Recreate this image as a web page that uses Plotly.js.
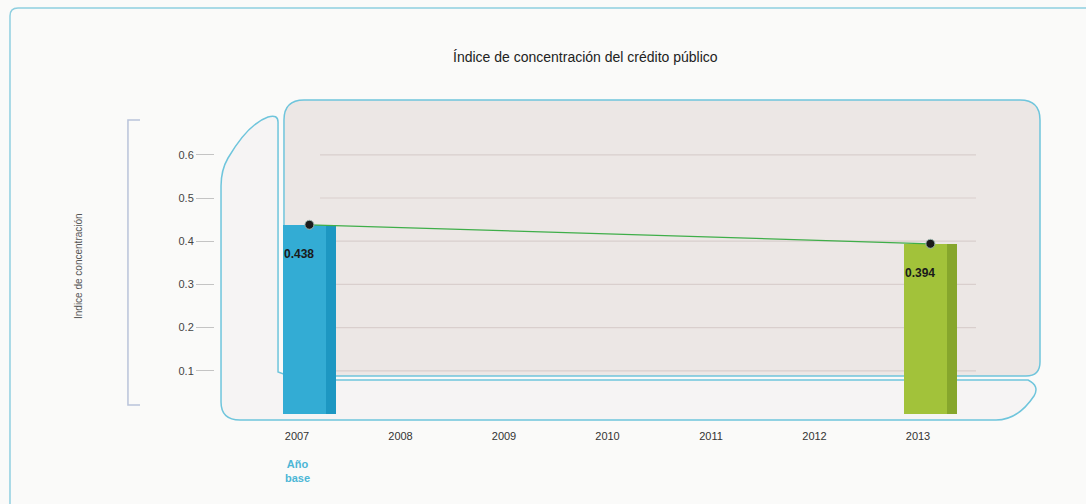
<!DOCTYPE html>
<html><head><meta charset="utf-8">
<script src="https://cdn.plot.ly/plotly-3.0.1.min.js"></script>
<style>html,body{margin:0;padding:0;background:#fafaf9;}#chart{width:1086px;height:504px;}</style>
</head><body><div id="chart"></div>
<script>
// ---- data ----
const years = [2007, 2013];
const values = [0.438, 0.394];
const valueLabels = ['0.438', '0.394'];
const barColors = ['#33acd4', '#a2c23a'];
const barSideColors = ['#1d97c2', '#86a62c'];
const xTickYears = [2007, 2008, 2009, 2010, 2011, 2012, 2013];
const xTickLabels = ['2007', '2008', '2009', '2010', '2011', '2012', '2013'];
const yTicks = [0.1, 0.2, 0.3, 0.4, 0.5, 0.6];
const yTickLabels = ['0.1', '0.2', '0.3', '0.4', '0.5', '0.6'];
const titleText = 'Índice de concentración del crédito público';
const yTitleText = 'Indice de concentración';
const baseYearText = 'Año<br>base';

// ---- layout geometry (pixels) ----
const L = 215, R = 1040, T = 100, B = 414;
const W = R - L, H = B - T;
const X = p => (p - L) / W;
const Y = p => (B - p) / H;
function P(s) { // convert pixel path to paper path
  const tok = s.trim().split(/\s+/); let out = []; let ix = 0;
  for (const t of tok) {
    if (/^[A-Za-z]$/.test(t)) { out.push(t); ix = 0; }
    else { const v = parseFloat(t); out.push((ix % 2 === 0 ? X(v) : Y(v)).toFixed(4)); ix++; }
  }
  return out.join(' ');
}
const BAR_SHIFT = 0.12, BAR_W = 0.52;
const cyan = '#6fc5dc';
const FONT = 'Liberation Sans, Arial, sans-serif';

const traces = [
  { type: 'bar', x: years, y: values, width: BAR_W, offset: BAR_SHIFT - BAR_W / 2,
    marker: { color: barColors, line: { width: 0 } }, hoverinfo: 'skip', showlegend: false },
  { type: 'bar', x: years, y: values, width: 0.1, offset: BAR_SHIFT + BAR_W / 2 - 0.1,
    marker: { color: barSideColors, line: { width: 0 } }, hoverinfo: 'skip', showlegend: false },
  { type: 'scatter', mode: 'lines+markers', x: years.map(v => v + BAR_SHIFT), y: values,
    line: { color: '#3fae49', width: 1.3 },
    marker: { symbol: 'circle', size: 9, color: '#1b1b1b', line: { color: '#9fb8b0', width: 1 } },
    hoverinfo: 'skip', showlegend: false }
];

const shapes = [
  // outer frame
  { type: 'path', xref: 'paper', yref: 'paper', layer: 'below',
    path: P('M 10 504 L 10 16 Q 10 8 18 8 L 1086 8'), line: { color: '#8fcfe0', width: 1.5 } },
  // left wall + floor
  { type: 'path', xref: 'paper', yref: 'paper', layer: 'below',
    path: P('M 278 372 L 278 122 Q 278 114 268 117 Q 248 124 228 158 Q 221 170 221 186 L 221 402 Q 221 420 240 420 L 996 420 Q 1018 420 1034 396 Q 1040 386 1028 380 L 300 380 Z'),
    fillcolor: '#f6f4f4', line: { color: cyan, width: 1.5 } },
  // back panel
  { type: 'path', xref: 'paper', yref: 'paper', layer: 'below',
    path: P('M 284 376 L 284 120 Q 284 100 304 100 L 1020 100 Q 1040 100 1040 120 L 1040 362 Q 1040 376 1026 376 Z'),
    fillcolor: '#ece7e5', line: { color: cyan, width: 1.5 } },
  // y axis bracket line
  { type: 'path', xref: 'paper', yref: 'paper', layer: 'below',
    path: P('M 140 120 L 128 120 L 128 405 L 140 405'), line: { color: '#b9c3da', width: 1.5 } }
];
// gridlines inside panel
yTicks.forEach(v => {
  shapes.push({ type: 'line', xref: 'paper', yref: 'y', layer: 'below', x0: X(320), x1: X(976), y0: v, y1: v,
    line: { color: '#d9cfcd', width: 1.2 } });
});

const annotations = [
  { xref: 'paper', yref: 'paper', x: X(585), y: Y(57), xanchor: 'center', yanchor: 'middle',
    text: titleText, showarrow: false, font: { family: FONT, size: 14, color: '#222' } },
  { xref: 'paper', yref: 'paper', x: X(78), y: Y(266), xanchor: 'center', yanchor: 'middle',
    text: yTitleText, textangle: -90, showarrow: false, font: { family: FONT, size: 10, color: '#555' } },
  { xref: 'x', yref: 'paper', x: xTickYears[0], y: Y(471), xanchor: 'center', yanchor: 'middle',
    text: baseYearText, showarrow: false,
    font: { family: FONT, size: 11, color: '#4cb6d6', weight: 'bold' } }
];
years.forEach((yr, i) => {
  annotations.push({ xref: 'x', yref: 'y', x: yr + BAR_SHIFT - 0.1, y: values[i], yshift: -29,
    text: '<b>' + valueLabels[i] + '</b>', showarrow: false,
    font: { family: FONT, size: 12, color: '#1a1a1a' } });
});

const layout = {
  width: 1086, height: 504,
  margin: { l: L, r: 1086 - R, t: T, b: 504 - B, pad: 0 },
  paper_bgcolor: '#fafaf9', plot_bgcolor: 'rgba(0,0,0,0)',
  showlegend: false, barmode: 'overlay', bargap: 0,
  font: { family: FONT, size: 11, color: '#333' },
  xaxis: { type: 'linear', range: [2007 + (L - 297) / 103.5, 2007 + (R - 297) / 103.5],
    tickvals: xTickYears, ticktext: xTickLabels, showgrid: false, zeroline: false, showline: false,
    ticks: 'outside', ticklen: 12, tickcolor: 'rgba(0,0,0,0)',
    tickfont: { size: 11, color: '#333' }, fixedrange: true },
  yaxis: { range: [0, H / 432], tickvals: yTicks, ticktext: yTickLabels, showgrid: false,
    zeroline: false, showline: false, ticks: 'outside', ticklen: 18, tickcolor: '#c4c4c4', tickwidth: 1,
    tickfont: { size: 11, color: '#444' }, fixedrange: true },
  shapes: shapes, annotations: annotations
};

Plotly.newPlot('chart', traces, layout, { displayModeBar: false, staticPlot: true });
</script></body></html>
